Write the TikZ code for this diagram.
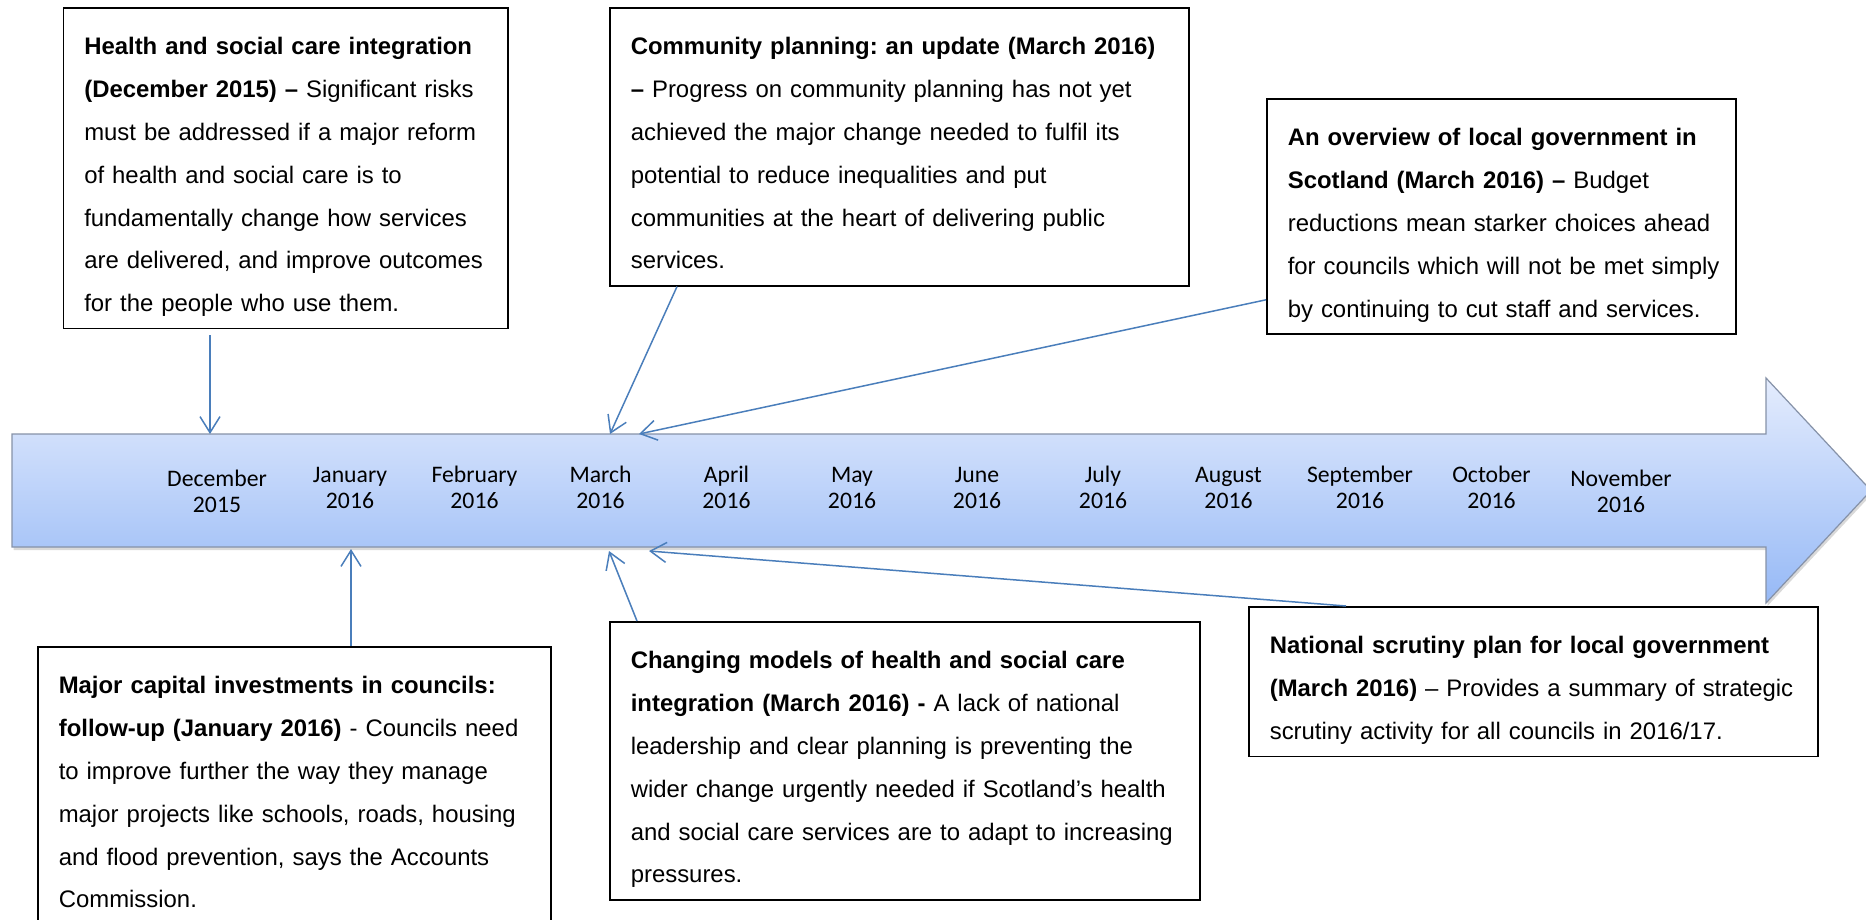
\documentclass[tikz,border=0pt]{standalone}
\usepackage{fontspec}
\setmainfont{Liberation Sans}
\newfontfamily\calfont{Carlito}
\usetikzlibrary{arrows.meta,shadows}
\frenchspacing

\definecolor{linkblue}{RGB}{74,126,187}
\definecolor{bartop}{RGB}{228,236,253}
\definecolor{barbot}{RGB}{150,185,246}
\definecolor{barline}{RGB}{134,146,168}

\newcommand{\firstln}{\leftskip=21pt\rightskip=0pt plus 1fil\relax\rule{0pt}{47pt}}
\newcommand{\lastdp}{\rule[-17pt]{0pt}{17pt}\par}

\begin{document}
\begin{tikzpicture}[x=1pt,y=-1pt,
  textbox/.style={draw=black,line width=1.6pt,fill=white,anchor=north west,inner xsep=0pt,inner ysep=0pt,font=\fontsize{23.9}{42.8}\selectfont\frenchspacing},
  month/.style={anchor=base,text width=150pt,align=center,inner sep=0pt,font=\calfont\fontsize{23.7}{26.7}\selectfont},
  link/.style={draw=linkblue,line width=1.5pt,-{Straight Barb[length=16pt,width=20pt]}}
]
\useasboundingbox (0,0) rectangle (1866,919);
\clip (0,0) rectangle (1866,919);

% timeline arrow
\path[drop shadow={shadow xshift=1.5pt,shadow yshift=-3pt,opacity=0.3},
      top color=bartop,bottom color=barbot,draw=barline,line width=1.2pt]
  (12,434) -- (1766,434) -- (1766,378) -- (1871,490.5) -- (1766,603) -- (1766,547) -- (12,547) -- cycle;

% month labels
\node[month] (m1)  at (217,486)    {December\\2015};
\node[month] (m2)  at (350,482)    {January\\2016};
\node[month] (m3)  at (474.5,482)  {February\\2016};
\node[month] (m4)  at (600.5,482)  {March\\2016};
\node[month] (m5)  at (726.5,482)  {April\\2016};
\node[month] (m6)  at (852,482)    {May\\2016};
\node[month] (m7)  at (977,482)    {June\\2016};
\node[month] (m8)  at (1103,482)   {July\\2016};
\node[month] (m9)  at (1228.5,482) {August\\2016};
\node[month] (m10) at (1360,482)   {September\\2016};
\node[month] (m11) at (1491.5,482) {October\\2016};
\node[month] (m12) at (1621,486)   {November\\2016};

% connector ends on the timeline
\coordinate (c1) at (210,434);
\coordinate (c2) at (610,434);
\coordinate (c3) at (639,434);
\coordinate (c4) at (351,549);
\coordinate (c5) at (609,551);
\coordinate (c6) at (649,551);

% text boxes
\node[textbox,text width=444.5pt] (b1) at (62.5,7) {\firstln\textbf{Health and social care integration}\\
\textbf{(December 2015) –} Significant risks\\
must be addressed if a major reform\\
of health and social care is to\\
fundamentally change how services\\
are delivered, and improve outcomes\\
for the people who use them.\lastdp};

\node[textbox,text width=579pt] (b2) at (609,7) {\firstln\textbf{Community planning: an update (March 2016)}\\
\textbf{–} Progress on community planning has not yet\\
achieved the major change needed to fulfil its\\
potential to reduce inequalities and put\\
communities at the heart of delivering public\\
services.\lastdp};

\node[textbox,text width=469pt] (b3) at (1266,98) {\firstln\textbf{An overview of local government in}\\
\textbf{Scotland (March 2016) –} Budget\\
reductions mean starker choices ahead\\
for councils which will not be met simply\\
by continuing to cut staff and services.\lastdp};

\node[textbox,text width=513pt] (b4) at (37,646) {\firstln\textbf{Major capital investments in councils:}\\
\textbf{follow-up (January 2016)} - Councils need\\
to improve further the way they manage\\
major projects like schools, roads, housing\\
and flood prevention, says the Accounts\\
Commission.\lastdp};

\node[textbox,text width=590pt] (b5) at (609,621) {\firstln\textbf{Changing models of health and social care}\\
\textbf{integration (March 2016) -} A lack of national\\
leadership and clear planning is preventing the\\
wider change urgently needed if Scotland’s health\\
and social care services are to adapt to increasing\\
pressures.\lastdp};

\node[textbox,text width=569pt] (b6) at (1248,606) {\firstln\textbf{National scrutiny plan for local government}\\
\textbf{(March 2016)} – Provides a summary of strategic\\
scrutiny activity for all councils in 2016/17.\lastdp};

% connectors
\draw[link] ([xshift=147.5pt,yshift=-6pt]b1.south west) -- (c1);
\draw[link] ([xshift=68pt]b2.south west) -- (c2);
\draw[link] ([yshift=35pt]b3.south west) -- (c3);
\draw[link] ([xshift=314pt]b4.north west) -- (c4);
\draw[link] ([xshift=28pt]b5.north west) -- (c5);
\draw[link] ([xshift=98pt]b6.north west) -- (c6);
\end{tikzpicture}
\end{document}
